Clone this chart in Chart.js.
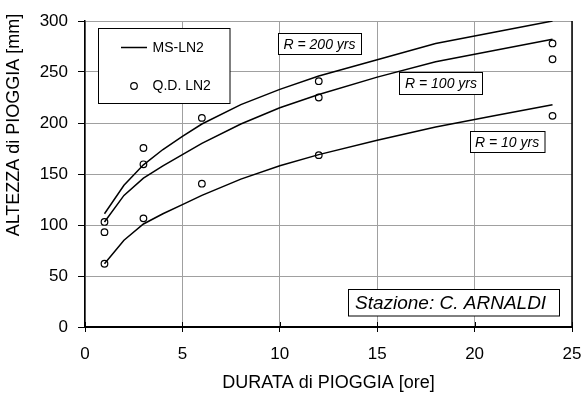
<!DOCTYPE html>
<html>
<head>
<meta charset="utf-8">
<script src="https://cdn.jsdelivr.net/npm/chart.js@4.4.1/dist/chart.umd.min.js"></script>
<style>
  html, body { margin: 0; padding: 0; background: #fff; }
  #wrap { width: 584px; height: 396px; position: relative; }
</style>
</head>
<body>
<div id="wrap"><canvas id="c" width="584" height="396"></canvas></div>
<script>
// ---- data ----
const durations = [1, 2, 3, 4, 5, 6, 8, 10, 12, 15, 18, 21, 24];
const ms200 = [111, 139, 159, 174, 187, 199, 218, 233, 246, 262, 278, 289, 300];
const ms100 = [103, 129, 146, 158, 169, 180, 199, 215, 228, 245, 260, 271, 282];
const ms10  = [62, 85, 101, 111, 120, 129, 145, 158, 169, 183, 196, 207, 218];

const qdX = [1, 1, 1, 3, 3, 3, 6, 6, 12, 12, 12, 24, 24, 24];
const qdY = [103, 93, 62, 175.5, 159.5, 106.5, 205, 140.5, 241, 225, 168.5, 278, 262.5, 207];

const xTickValues = [0, 5, 10, 15, 20, 25];
const yTickValues = [0, 50, 100, 150, 200, 250, 300];

const xTitle = 'DURATA di PIOGGIA [ore]';
const yTitle = 'ALTEZZA di PIOGGIA [mm]';
const legendLabels = ['MS-LN2', 'Q.D. LN2'];
const curveLabels = ['R = 200 yrs', 'R = 100 yrs', 'R = 10 yrs'];
const stationLabel = 'Stazione: C. ARNALDI';

// ---- build ----
const FONT = '"Liberation Sans", Arial, sans-serif';
const toPts = (xs, ys) => xs.map((x, i) => ({ x: x, y: ys[i] }));
const curveStyle = {
  showLine: true, borderColor: '#000', borderWidth: 1.5,
  pointRadius: 0, pointHoverRadius: 0, tension: 0, fill: false
};

const extras = {
  id: 'extras',
  afterDraw(chart) {
    const ctx = chart.ctx;
    const a = chart.chartArea;
    const xs = chart.scales.x;
    ctx.save();
    // right border
    ctx.strokeStyle = '#000';
    ctx.lineWidth = 1.5;
    ctx.beginPath();
    ctx.moveTo(a.right, a.top);
    ctx.lineTo(a.right, a.bottom + 1);
    ctx.stroke();
    // inward part of x ticks
    ctx.lineWidth = 1;
    xTickValues.forEach(v => {
      const px = Math.round(xs.getPixelForValue(v)) + 0.5;
      ctx.beginPath();
      ctx.moveTo(px, a.bottom);
      ctx.lineTo(px, a.bottom - 5);
      ctx.stroke();
    });

    // legend box
    ctx.fillStyle = '#fff';
    ctx.fillRect(98.5, 28.5, 131.5, 75);
    ctx.strokeStyle = '#000';
    ctx.lineWidth = 1;
    ctx.strokeRect(98.5, 28.5, 131.5, 75);
    ctx.lineWidth = 1.5;
    ctx.beginPath();
    ctx.moveTo(121, 47.5);
    ctx.lineTo(147, 47.5);
    ctx.stroke();
    ctx.lineWidth = 1.2;
    ctx.beginPath();
    ctx.arc(134, 86, 3.3, 0, Math.PI * 2);
    ctx.fillStyle = '#fff';
    ctx.fill();
    ctx.stroke();
    ctx.fillStyle = '#000';
    ctx.font = '14px ' + FONT;
    ctx.textAlign = 'left';
    ctx.textBaseline = 'middle';
    ctx.fillText(legendLabels[0], 152.5, 48);
    ctx.fillText(legendLabels[1], 152.5, 86.5);

    // boxed labels
    const boxes = [
      { t: curveLabels[0], x: 278.5, y: 33.5, w: 83, h: 21, tx: 283.5, f: 'italic 14px ' },
      { t: curveLabels[1], x: 399.5, y: 72.5, w: 83, h: 22, tx: 405, f: 'italic 14px ' },
      { t: curveLabels[2], x: 470.5, y: 131.5, w: 74.5, h: 21, tx: 475, f: 'italic 14px ' },
      { t: stationLabel, x: 348.5, y: 289.5, w: 211, h: 26.5, tx: 355, f: 'italic 19px ' }
    ];
    boxes.forEach(b => {
      ctx.fillStyle = '#fff';
      ctx.fillRect(b.x, b.y, b.w, b.h);
      ctx.strokeStyle = '#000';
      ctx.lineWidth = 1;
      ctx.strokeRect(b.x, b.y, b.w, b.h);
      ctx.fillStyle = '#000';
      ctx.font = b.f + FONT;
      ctx.textAlign = 'left';
      ctx.textBaseline = 'middle';
      ctx.fillText(b.t, b.tx, b.y + b.h / 2 + 1);
    });

    // axis titles
    ctx.fillStyle = '#000';
    ctx.font = '18px ' + FONT;
    ctx.textAlign = 'center';
    ctx.textBaseline = 'middle';
    ctx.fillText(xTitle, (a.left + a.right) / 2, 383);
    ctx.translate(14, 125);
    ctx.rotate(-Math.PI / 2);
    ctx.fillText(yTitle, 0, 0);
    ctx.restore();
  }
};

new Chart(document.getElementById('c'), {
  type: 'scatter',
  data: {
    datasets: [
      Object.assign({ label: 'MS-LN2 200', data: toPts(durations, ms200) }, curveStyle),
      Object.assign({ label: 'MS-LN2 100', data: toPts(durations, ms100) }, curveStyle),
      Object.assign({ label: 'MS-LN2 10', data: toPts(durations, ms10) }, curveStyle),
      {
        label: 'Q.D. LN2', data: toPts(qdX, qdY), showLine: false,
        pointRadius: 3.3, pointBorderWidth: 1.2, pointBorderColor: '#000',
        pointBackgroundColor: '#fff', pointStyle: 'circle'
      }
    ]
  },
  options: {
    responsive: false,
    animation: false,
    devicePixelRatio: 1,
    layout: { padding: { left: 0, right: 12, top: 21, bottom: 0 } },
    plugins: { legend: { display: false }, tooltip: { enabled: false } },
    scales: {
      x: {
        type: 'linear', min: 0, max: 25,
        afterBuildTicks: s => { s.ticks = xTickValues.map(v => ({ value: v })); },
        afterFit: s => { s.height = 69; s.paddingLeft = 0; s.paddingRight = 0; },
        grid: { color: '#a0a0a0', lineWidth: 1, tickColor: '#000', tickLength: 5, drawTicks: true },
        border: { color: '#000', width: 2 },
        ticks: { color: '#000', font: { family: FONT, size: 17 }, padding: 12, maxRotation: 0 }
      },
      y: {
        type: 'linear', min: 0, max: 300,
        afterBuildTicks: s => { s.ticks = yTickValues.map(v => ({ value: v })); },
        afterFit: s => { s.width = 85; s.paddingTop = 0; s.paddingBottom = 0; },
        grid: { color: '#a0a0a0', lineWidth: 1, tickColor: '#000', tickLength: 7 },
        border: { color: '#000', width: 1.5 },
        ticks: { color: '#000', font: { family: FONT, size: 17 }, padding: 10 }
      }
    }
  },
  plugins: [extras]
});
</script>
</body>
</html>
